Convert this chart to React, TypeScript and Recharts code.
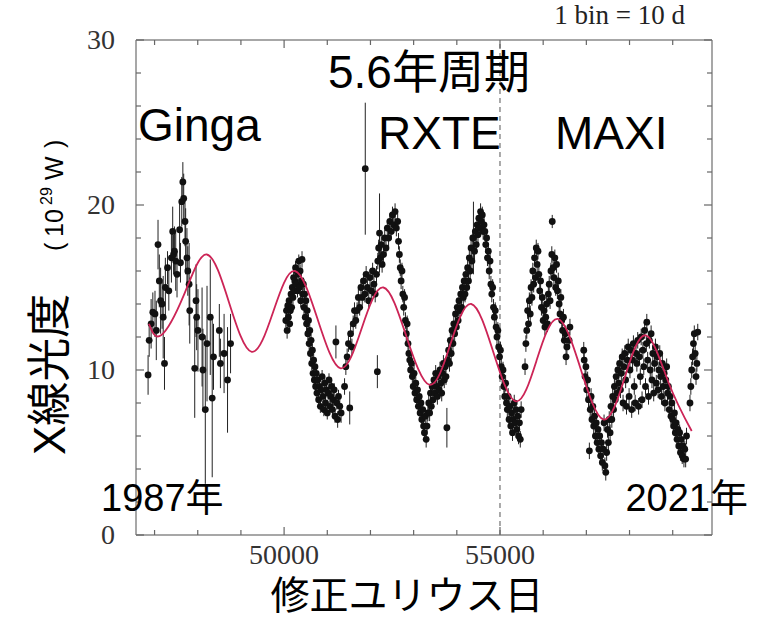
import React from "react";
import { ComposedChart, Scatter, XAxis, YAxis, ErrorBar, ReferenceLine } from "recharts";

// Ginga points: [MJD, luminosity (1e29 W), error]
const gingaPoints: [number, number, number][] = [
  [46850, 9.7, 1.2], [46875, 11.8, 1.0], [46920, 12.8, 1.5], [46960, 13.5, 1.2], [47010, 13.4, 1.4],
  [47040, 12.4, 1.8], [47080, 17.6, 1.5], [47110, 15.4, 1.6], [47140, 14.2, 2.0], [47175, 14.0, 1.5],
  [47200, 13.2, 2.5], [47230, 10.4, 1.6], [47250, 15.0, 1.8], [47300, 16.2, 1.0], [47330, 14.8, 1.2],
  [47390, 16.8, 1.5], [47420, 18.4, 1.5], [47440, 17.0, 1.2], [47460, 17.2, 1.5], [47490, 16.6, 1.8],
  [47520, 15.8, 1.4], [47580, 18.5, 1.8], [47600, 16.5, 1.2], [47630, 20.2, 1.5], [47655, 21.4, 1.2],
  [47675, 20.4, 1.5], [47705, 19.0, 1.5], [47720, 17.8, 2.0], [47750, 16.8, 1.8], [47770, 16.0, 1.5],
  [47800, 15.2, 2.5], [47815, 13.6, 2.0], [47930, 10.1, 3.0], [47960, 14.2, 2.2], [47975, 13.2, 2.0],
  [48005, 12.4, 2.5], [48100, 12.0, 3.0], [48120, 10.0, 2.5], [48175, 7.6, 4.5], [48215, 11.6, 3.5],
  [48290, 13.2, 3.5], [48335, 8.3, 4.8], [48365, 10.8, 2.0], [48500, 12.4, 1.6], [48525, 10.4, 1.5],
  [48610, 11.0, 2.4], [48690, 9.4, 3.2], [48760, 11.6, 1.8],
];

// RXTE points
const rxtePoints: [number, number, number][] = [
  [50040, 13.0, 0.4], [50055, 13.6, 0.4], [50070, 12.4, 0.5], [50085, 13.9, 0.4], [50100, 13.2, 0.4],
  [50115, 14.2, 0.4], [50130, 12.8, 0.5], [50145, 13.6, 0.4], [50160, 14.6, 0.4], [50175, 13.8, 0.4],
  [50190, 15.0, 0.4], [50205, 14.4, 0.4], [50220, 15.6, 0.4], [50235, 14.8, 0.4], [50250, 15.4, 0.5],
  [50265, 16.2, 0.4], [50280, 15.2, 0.4], [50295, 16.0, 0.4], [50310, 14.8, 0.4], [50325, 15.8, 0.4],
  [50340, 16.6, 0.4], [50355, 15.0, 0.4], [50370, 16.0, 0.4], [50385, 14.2, 0.4], [50400, 15.4, 0.4],
  [50415, 16.7, 0.5], [50430, 14.6, 0.4], [50445, 15.2, 0.4], [50460, 13.8, 0.4], [50475, 14.6, 0.4],
  [50490, 13.2, 0.4], [50505, 14.2, 0.4], [50520, 12.8, 0.5], [50535, 13.6, 0.4], [50550, 12.2, 0.4],
  [50565, 13.0, 0.4], [50580, 11.6, 0.4], [50595, 12.4, 0.4], [50610, 11.0, 0.4], [50625, 11.8, 0.4],
  [50640, 10.4, 0.4], [50655, 11.2, 0.4], [50670, 9.8, 0.4], [50685, 10.6, 0.4], [50700, 9.4, 0.4],
  [50715, 10.2, 0.4], [50730, 9.0, 0.4], [50745, 9.8, 0.4], [50760, 8.6, 0.4], [50780, 9.4, 0.4],
  [50800, 8.2, 0.4], [50820, 9.0, 0.4], [50840, 7.8, 0.4], [50860, 8.8, 0.4], [50880, 9.6, 0.4],
  [50900, 8.4, 0.4], [50920, 7.6, 0.4], [50940, 9.2, 0.4], [50960, 8.0, 0.4], [50980, 8.8, 0.4],
  [51000, 7.4, 0.4], [51020, 8.6, 0.4], [51040, 9.4, 0.4], [51060, 7.8, 0.4], [51080, 8.4, 0.4],
  [51100, 9.0, 0.4], [51120, 7.6, 0.4], [51140, 8.2, 0.4], [51160, 8.8, 0.4], [51180, 7.2, 0.4],
  [51200, 11.7, 1.0], [51220, 8.0, 0.4], [51240, 7.0, 0.5], [51260, 8.4, 0.4], [51290, 7.8, 0.5],
  [51320, 7.4, 0.6], [51400, 9.0, 0.5], [51430, 10.2, 0.5], [51460, 10.8, 0.5], [51490, 11.6, 0.5],
  [51520, 7.7, 1.0], [51540, 12.2, 0.5], [51570, 11.4, 0.5], [51600, 12.8, 0.5], [51630, 13.6, 0.5],
  [51660, 13.0, 0.5], [51690, 13.6, 0.5], [51720, 14.4, 0.5], [51750, 13.8, 0.5], [51780, 15.0, 0.5],
  [51810, 14.4, 0.5], [51840, 15.4, 0.5], [51870, 14.6, 0.5], [51880, 22.2, 4.0], [51900, 15.8, 0.5],
  [51930, 15.0, 0.5], [51960, 14.2, 0.5], [51990, 15.6, 0.5], [52020, 14.8, 0.5], [52050, 16.0, 0.5],
  [52080, 15.2, 0.5], [52110, 14.6, 0.5], [52140, 15.8, 0.5], [52160, 9.9, 1.0], [52170, 16.6, 0.5],
  [52190, 17.4, 0.5], [52210, 18.3, 2.4], [52230, 16.8, 0.5], [52250, 17.6, 0.5], [52270, 16.4, 0.5],
  [52300, 17.0, 0.5], [52330, 18.0, 0.5], [52360, 17.4, 0.5], [52390, 18.6, 0.5], [52420, 18.0, 0.5],
  [52450, 19.0, 0.5], [52480, 18.4, 0.5], [52510, 19.4, 0.5], [52540, 18.8, 0.5], [52570, 19.6, 0.5],
  [52600, 18.6, 0.5], [52630, 19.0, 0.5], [52650, 17.8, 0.5], [52670, 17.0, 0.5], [52690, 16.2, 0.5],
  [52710, 15.4, 0.5], [52730, 16.0, 0.5], [52750, 14.6, 0.5], [52770, 13.8, 0.5], [52790, 14.4, 0.5],
  [52810, 13.0, 0.5], [52830, 12.2, 0.5], [52850, 12.8, 0.5], [52870, 11.6, 0.5], [52890, 11.0, 0.5],
  [52910, 10.6, 0.5], [52930, 10.0, 0.5], [52950, 10.4, 0.5], [52970, 9.6, 0.5], [52990, 9.0, 0.5],
  [53010, 9.8, 0.5], [53030, 8.6, 0.5], [53050, 9.2, 0.5], [53070, 8.2, 0.5], [53090, 8.8, 0.5],
  [53110, 7.8, 0.5], [53130, 8.4, 0.5], [53150, 7.4, 0.5], [53170, 8.0, 0.5], [53190, 7.0, 0.5],
  [53210, 7.6, 0.5], [53230, 6.6, 0.5], [53250, 6.2, 0.5], [53270, 7.2, 0.5], [53290, 5.8, 0.5],
  [53310, 6.6, 0.5], [53330, 7.4, 0.5], [53350, 8.0, 0.5], [53370, 7.4, 0.5], [53390, 8.6, 0.5],
  [53410, 7.8, 0.5], [53430, 9.0, 0.5], [53450, 8.2, 0.5], [53470, 9.4, 0.5], [53490, 8.6, 0.5],
  [53510, 9.8, 0.5], [53530, 9.0, 0.5], [53550, 8.4, 0.5], [53570, 9.6, 0.5], [53590, 8.8, 0.5],
  [53610, 10.0, 0.5], [53630, 9.2, 0.5], [53650, 8.6, 0.5], [53670, 9.8, 0.5], [53690, 10.4, 0.5],
  [53710, 9.4, 0.5], [53730, 10.2, 0.5], [53750, 9.6, 0.5], [53770, 6.5, 1.2], [53790, 10.6, 0.5],
  [53810, 11.2, 0.5], [53830, 10.4, 0.5], [53850, 11.8, 0.5], [53870, 11.0, 0.5], [53890, 12.4, 0.5],
  [53910, 11.6, 0.5], [53930, 12.8, 0.5], [53950, 12.2, 0.5], [53970, 13.4, 0.5], [53990, 12.6, 0.5],
  [54010, 13.8, 0.5], [54030, 13.0, 0.5], [54050, 14.2, 0.5], [54070, 13.6, 0.5], [54090, 14.6, 0.5],
  [54110, 13.8, 0.5], [54130, 15.0, 0.5], [54150, 14.4, 0.5], [54170, 15.4, 0.5], [54190, 14.6, 0.5],
  [54210, 15.8, 0.5], [54230, 15.0, 0.5], [54250, 16.2, 0.5], [54270, 15.4, 0.5], [54290, 16.8, 0.5],
  [54310, 16.0, 0.5], [54330, 17.4, 0.5], [54350, 16.6, 0.5], [54370, 18.0, 0.5], [54385, 18.0, 2.2],
  [54410, 17.2, 0.5], [54430, 18.4, 0.5], [54450, 17.6, 0.5], [54470, 18.8, 0.5], [54490, 18.2, 0.5],
  [54510, 19.2, 0.5], [54530, 18.6, 0.5], [54550, 19.6, 0.5], [54570, 19.0, 0.5], [54590, 19.4, 0.5],
  [54610, 18.4, 0.5], [54630, 18.8, 0.5], [54650, 18.4, 0.5], [54670, 17.6, 0.5], [54690, 18.0, 0.5],
  [54710, 16.8, 0.5], [54730, 17.2, 0.5], [54750, 16.0, 0.5], [54770, 16.6, 0.5], [54790, 15.2, 0.5],
  [54810, 14.6, 0.5], [54830, 15.0, 0.5], [54850, 13.8, 0.5], [54870, 13.2, 0.5], [54890, 13.6, 0.5],
  [54910, 12.6, 0.5], [54930, 12.0, 0.5], [54950, 12.4, 0.5], [54970, 11.4, 0.5], [54990, 10.8, 0.5],
];

// MAXI points
const maxiPoints: [number, number, number][] = [
  [55010, 11.2, 0.5], [55030, 10.2, 0.5], [55050, 9.6, 0.5], [55070, 10.0, 0.5], [55090, 9.0, 0.5],
  [55110, 8.4, 0.5], [55130, 9.2, 0.5], [55150, 8.0, 0.5], [55170, 7.6, 0.5], [55190, 8.4, 0.5],
  [55210, 7.0, 0.5], [55230, 7.8, 0.5], [55250, 6.6, 0.5], [55270, 7.4, 0.5], [55290, 6.2, 0.5],
  [55310, 7.0, 0.5], [55330, 8.0, 0.5], [55350, 6.8, 0.5], [55370, 7.6, 0.5], [55390, 6.4, 0.5],
  [55410, 7.2, 0.5], [55430, 6.0, 0.5], [55450, 6.8, 0.5], [55470, 5.8, 0.5], [55490, 7.6, 0.5],
  [55580, 10.2, 0.5], [55600, 11.6, 0.5], [55620, 12.4, 0.5], [55640, 13.6, 0.5], [55660, 12.8, 0.5],
  [55680, 14.2, 0.5], [55700, 13.4, 0.5], [55720, 15.0, 0.5], [55740, 14.4, 0.5], [55760, 16.0, 0.5],
  [55780, 15.2, 0.5], [55800, 16.8, 0.5], [55820, 15.6, 0.5], [55840, 17.4, 0.5], [55860, 16.4, 0.5],
  [55880, 17.2, 0.5], [55900, 15.8, 0.5], [55920, 14.8, 0.5], [55940, 15.4, 0.5], [55960, 13.8, 0.5],
  [55980, 14.4, 0.5], [56000, 13.0, 0.5], [56020, 13.6, 0.5], [56040, 12.6, 0.5], [56060, 13.2, 0.5],
  [56080, 14.0, 0.5], [56100, 12.8, 0.5], [56120, 14.6, 0.5], [56140, 15.2, 0.5], [56160, 14.2, 0.5],
  [56180, 16.0, 0.5], [56200, 17.0, 0.5], [56210, 19.0, 0.4], [56230, 16.2, 0.5], [56250, 15.6, 0.5],
  [56270, 16.8, 0.5], [56290, 15.0, 0.5], [56310, 16.4, 0.5], [56330, 14.8, 0.5], [56350, 15.4, 0.5],
  [56370, 14.0, 0.5], [56390, 13.4, 0.5], [56410, 14.4, 0.5], [56430, 13.0, 0.5], [56450, 12.4, 0.5],
  [56470, 13.2, 0.5], [56490, 11.8, 0.5], [56510, 12.2, 0.5], [56530, 10.8, 0.5], [56550, 11.4, 0.5],
  [56600, 11.8, 0.5], [56620, 12.6, 0.5], [56940, 11.2, 0.5], [56950, 10.6, 0.5], [56970, 9.6, 0.5],
  [56990, 10.2, 0.5], [57010, 8.8, 0.5], [57030, 9.4, 0.5], [57050, 8.2, 0.5], [57070, 5.1, 0.5],
  [57090, 7.6, 0.5], [57110, 8.4, 0.5], [57130, 7.0, 0.5], [57150, 7.8, 0.5], [57170, 6.6, 0.5],
  [57190, 7.2, 0.5], [57210, 6.0, 0.5], [57230, 6.8, 0.5], [57250, 5.6, 0.5], [57270, 6.4, 0.5],
  [57290, 5.2, 0.5], [57310, 6.0, 0.5], [57330, 4.8, 0.5], [57350, 5.6, 0.5], [57370, 4.4, 0.5],
  [57390, 5.2, 0.5], [57410, 6.8, 0.5], [57430, 4.2, 0.5], [57450, 3.8, 0.5], [57470, 5.0, 0.5],
  [57490, 6.4, 0.5], [57510, 5.6, 0.5], [57530, 7.0, 0.5], [57550, 6.2, 0.5], [57570, 7.8, 0.5],
  [57590, 7.0, 0.5], [57610, 8.4, 0.5], [57630, 7.6, 0.5], [57650, 9.0, 0.5], [57670, 8.2, 0.5],
  [57690, 9.6, 0.5], [57710, 8.6, 0.5], [57730, 10.0, 0.5], [57750, 9.2, 0.5], [57770, 10.4, 0.5],
  [57790, 8.8, 0.5], [57810, 9.8, 0.5], [57830, 10.8, 0.5], [57850, 8.0, 0.5], [57870, 10.2, 0.5],
  [57890, 11.0, 0.5], [57910, 9.4, 0.5], [57930, 7.8, 0.5], [57950, 10.6, 0.5], [57970, 11.4, 0.5],
  [57990, 8.4, 0.5], [58010, 10.0, 0.5], [58030, 11.2, 0.5], [58050, 7.6, 0.5], [58070, 10.6, 0.5],
  [58090, 11.6, 0.5], [58110, 9.0, 0.5], [58130, 8.0, 0.5], [58150, 11.0, 0.5], [58170, 10.4, 0.5],
  [58190, 11.8, 0.5], [58210, 7.8, 0.5], [58230, 10.8, 0.5], [58250, 9.6, 0.5], [58270, 12.0, 0.5],
  [58290, 8.2, 0.5], [58310, 11.2, 0.5], [58330, 10.2, 0.5], [58350, 12.4, 0.5], [58370, 9.0, 0.5],
  [58390, 11.6, 0.5], [58400, 12.9, 0.5], [58420, 10.6, 0.5], [58440, 8.4, 0.5], [58460, 11.8, 0.5],
  [58480, 10.0, 0.5], [58500, 12.2, 0.5], [58520, 9.4, 0.5], [58540, 11.0, 0.5], [58560, 8.6, 0.5],
  [58580, 10.4, 0.5], [58600, 11.4, 0.5], [58620, 9.2, 0.5], [58640, 10.8, 0.5], [58660, 8.8, 0.5],
  [58680, 10.0, 0.5], [58700, 11.0, 0.5], [58720, 9.6, 0.5], [58740, 8.4, 0.5], [58760, 10.4, 0.5],
  [58780, 9.0, 0.5], [58800, 9.8, 0.5], [58820, 8.0, 0.5], [58840, 9.4, 0.5], [58860, 10.2, 0.5],
  [58880, 8.6, 0.5], [58900, 9.0, 0.5], [58920, 7.6, 0.5], [58940, 8.4, 0.5], [58960, 7.2, 0.5],
  [58980, 8.0, 0.5], [59000, 7.0, 0.5], [59020, 6.6, 0.5], [59040, 7.4, 0.5], [59060, 6.2, 0.5],
  [59080, 6.8, 0.5], [59100, 5.8, 0.5], [59120, 6.4, 0.5], [59140, 5.4, 0.5], [59160, 6.2, 0.5],
  [59180, 5.0, 0.5], [59200, 5.8, 0.5], [59220, 4.8, 0.5], [59240, 5.4, 0.5], [59260, 4.6, 0.5],
  [59280, 5.2, 0.5], [59300, 4.6, 0.5], [59320, 6.0, 0.5], [59400, 8.0, 0.5], [59420, 9.0, 0.5],
  [59440, 10.0, 0.5], [59460, 10.8, 0.5], [59480, 11.6, 0.5], [59500, 12.2, 0.5], [59520, 11.0, 0.5],
  [59540, 9.6, 0.5], [59560, 10.4, 0.5], [59580, 12.3, 0.5],
];

// 5.6 year periodic model curve, read at peaks, troughs and midpoints
const fitCurve: [number, number][] = [
  [46870, 12.8], [47150, 12.1], [47680, 14.55], [48210, 17.0], [48730, 14.05], [49250, 11.1],
  [49750, 13.55], [50250, 16.0], [50780, 13.05], [51310, 10.1], [51800, 12.55], [52300, 15.0],
  [52830, 12.05], [53370, 9.1], [53850, 11.55], [54335, 14.0], [54850, 11.05], [55370, 8.1],
  [55850, 10.6], [56340, 13.1], [56870, 10.05], [57400, 7.0], [57890, 9.55], [58380, 12.1],
  [58910, 9.2], [59440, 6.3],
];

const xTicks = [47000, 48000, 49000, 50000, 51000, 52000, 53000, 54000, 55000, 56000, 57000, 58000, 59000];
const yTicks = [0, 2, 4, 6, 8, 10, 12, 14, 16, 18, 20, 22, 24, 26, 28, 30];
const xLabelTicks = [50000, 55000];
const yLabelTicks = [0, 10, 20, 30];

const SERIF = '"Liberation Serif", "Times New Roman", serif';
const SANS = '"Liberation Sans", Arial, "Noto Sans CJK JP", sans-serif';
const CJK = '"Noto Sans CJK JP", sans-serif';
const AXIS_GRAY = "#8a8a8a";
const TICK_GRAY = "#666";

const toPoints = (rows: [number, number, number][]) =>
  rows.map(([x, y, err]) => ({ x, y, err }));

const allPoints = [...toPoints(gingaPoints), ...toPoints(rxtePoints), ...toPoints(maxiPoints)];
const curveData = fitCurve.map(([x, y]) => ({ x, y }));

const BottomTick = (props: any) => {
  const { x, y, payload } = props;
  const major = xLabelTicks.includes(payload.value);
  return (
    <g>
      <line x1={x} y1={y} x2={x} y2={y - (major ? 8 : 5)} stroke={TICK_GRAY} strokeWidth={1.2} />
      {major && (
        <text x={x} y={y + 29} textAnchor="middle" fontFamily={SERIF} fontSize={28} fill="#333">
          {payload.value}
        </text>
      )}
    </g>
  );
};

const TopTick = (props: any) => {
  const { x, y, payload } = props;
  const major = xLabelTicks.includes(payload.value);
  return <line x1={x} y1={y} x2={x} y2={y + (major ? 8 : 5)} stroke={TICK_GRAY} strokeWidth={1.2} />;
};

const LeftTick = (props: any) => {
  const { x, y, payload } = props;
  const major = yLabelTicks.includes(payload.value);
  return (
    <g>
      <line x1={x} y1={y} x2={x + (major ? 8 : 5)} y2={y} stroke={TICK_GRAY} strokeWidth={1.2} />
      {major && (
        <text x={x - 21} y={y + 9} textAnchor="end" fontFamily={SERIF} fontSize={28} fill="#333">
          {payload.value}
        </text>
      )}
    </g>
  );
};

const RightTick = (props: any) => {
  const { x, y, payload } = props;
  const major = yLabelTicks.includes(payload.value);
  return <line x1={x} y1={y} x2={x - (major ? 8 : 5)} y2={y} stroke={TICK_GRAY} strokeWidth={1.2} />;
};

const renderDot = (props: any) => <circle cx={props.cx} cy={props.cy} r={3.4} fill="#111" />;
const renderNothing = () => <g />;

export default function App() {
  return (
    <div style={{ position: "absolute", left: 0, top: 0, width: 770, height: 621, background: "#fff" }}>
      <ComposedChart width={770} height={621} margin={{ top: 39, right: 57, bottom: 46, left: 76 }}>
        <XAxis
          type="number"
          dataKey="x"
          domain={[46570, 59910]}
          allowDataOverflow
          ticks={xTicks}
          interval={0}
          tickLine={false}
          tickSize={0}
          tickMargin={0}
          tick={BottomTick}
          height={40}
          axisLine={{ stroke: AXIS_GRAY, strokeWidth: 1.5 }}
        />
        <XAxis
          xAxisId="top"
          orientation="top"
          type="number"
          dataKey="x"
          domain={[46570, 59910]}
          allowDataOverflow
          ticks={xTicks}
          interval={0}
          tickLine={false}
          tickSize={0}
          tickMargin={0}
          tick={TopTick}
          height={1}
          axisLine={{ stroke: AXIS_GRAY, strokeWidth: 1.5 }}
        />
        <YAxis
          type="number"
          dataKey="y"
          domain={[0, 30]}
          allowDataOverflow
          ticks={yTicks}
          interval={0}
          tickLine={false}
          tickSize={0}
          tickMargin={0}
          tick={LeftTick}
          width={60}
          axisLine={{ stroke: AXIS_GRAY, strokeWidth: 1.5 }}
        />
        <YAxis
          yAxisId="right"
          orientation="right"
          type="number"
          dataKey="y"
          domain={[0, 30]}
          allowDataOverflow
          ticks={yTicks}
          interval={0}
          tickLine={false}
          tickSize={0}
          tickMargin={0}
          tick={RightTick}
          width={1}
          axisLine={{ stroke: AXIS_GRAY, strokeWidth: 1.5 }}
        />
        <ReferenceLine x={55000} stroke="#555" strokeWidth={1} strokeDasharray="5 4" />
        <Scatter data={allPoints} dataKey="y" shape={renderDot} isAnimationActive={false}>
          <ErrorBar dataKey="err" direction="y" width={0} stroke="#222" strokeWidth={1} />
        </Scatter>
        <Scatter
          data={curveData}
          dataKey="y"
          xAxisId="top"
          yAxisId="right"
          line={{ stroke: "#cc2456", strokeWidth: 1.8 }}
          lineJointType="natural"
          shape={renderNothing}
          isAnimationActive={false}
        />
      </ComposedChart>
      <svg
        width={770}
        height={621}
        style={{ position: "absolute", left: 0, top: 0, pointerEvents: "none" }}
      >
        <text x={685} y={24} textAnchor="end" fontFamily={SERIF} fontSize={27} fill="#222">
          1 bin = 10 d
        </text>
        <text x={328} y={88} fontFamily={SANS} fontSize={46} fill="#000">
          5.6年周期
        </text>
        <text x={138} y={141} fontFamily={SANS} fontSize={46} fill="#000">
          Ginga
        </text>
        <text x={378} y={149} fontFamily={SANS} fontSize={46} fill="#000">
          RXTE
        </text>
        <text x={555} y={149} fontFamily={SANS} fontSize={46} fill="#000">
          MAXI
        </text>
        <text x={101} y={511} fontFamily={SANS} fontSize={38} fill="#000">
          1987年
        </text>
        <text x={748} y={511} textAnchor="end" fontFamily={SANS} fontSize={38} fill="#000">
          2021年
        </text>
        <text x={407} y={609} textAnchor="middle" fontFamily={CJK} fontSize={39} fill="#000">
          修正ユリウス日
        </text>
        <g transform="translate(65,0) rotate(-90)">
          <text x={-455} y={0} fontFamily={SANS} fontSize={44} fill="#000">
            X線光度
          </text>
          <text x={-251} y={-2} fontFamily={SANS} fontSize={25} fill="#000">
            (
          </text>
          <text x={-237} y={-2} fontFamily={SANS} fontSize={25} fill="#000">
            10
          </text>
          <text x={-205} y={-13} fontFamily={SANS} fontSize={16} fill="#000">
            29
          </text>
          <text x={-180} y={-2} fontFamily={SANS} fontSize={25} fill="#000">
            W
          </text>
          <text x={-148} y={-2} fontFamily={SANS} fontSize={25} fill="#000">
            )
          </text>
        </g>
      </svg>
    </div>
  );
}
